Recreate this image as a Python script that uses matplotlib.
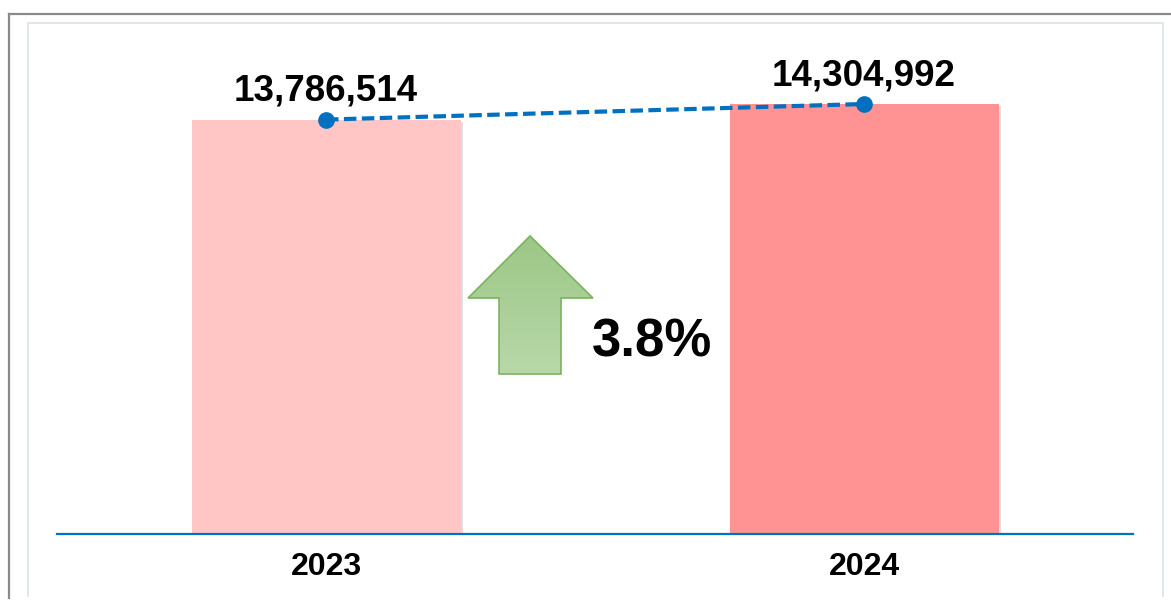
import matplotlib
matplotlib.use("Agg")
import matplotlib.pyplot as plt
from matplotlib.patches import Polygon
from matplotlib.lines import Line2D
import matplotlib.patheffects as pe
import numpy as np

## data
years = ["2023", "2024"]
values = [13786514, 14304992]
change_label = "3.8%"
bar_colors = ["#FFC6C5", "#FF9292"]

plt.rcParams['font.family'] = ['Liberation Sans', 'DejaVu Sans']

W, H = 1171, 603
fig = plt.figure(figsize=(W / 100, H / 100), dpi=100)

## frames (figure pixels)
def fx(px):
    return px / W
def fy(py):
    return 1 - py / H

fig.add_artist(Line2D([fx(9), fx(9)], [fy(14), fy(598)], color="#8a8a8a", lw=1.6))
fig.add_artist(Line2D([fx(9), fx(1171)], [fy(14), fy(14)], color="#8a8a8a", lw=1.6))
fig.add_artist(Line2D([fx(28), fx(28), fx(1163), fx(1163)], [fy(596), fy(23), fy(23), fy(596)],
                      color="#dde4ec", lw=1.3))

ax = fig.add_axes([fx(57), fy(534), fx(1133) - fx(57), fy(23) - fy(534)])
ax.patch.set_alpha(0)

x = np.arange(len(years))
bars = ax.bar(x, values, width=0.5, color=bar_colors, zorder=2)
for b in bars:
    b.set_path_effects([pe.SimplePatchShadow(offset=(1.5, -1.5), shadow_rgbFace="#c8c8c8", alpha=0.6),
                        pe.Normal()])

ax.plot(x, values, color="#0070C0", lw=3, ls=(0, (3, 1.3)), marker="o",
        markersize=11, zorder=4)

for xi, v in zip(x, values):
    ax.annotate(f"{v:,}", (xi, v), xytext=(0, 13.5), textcoords="offset points",
                ha="center", va="baseline", fontsize=26.5, fontweight="bold", color="#000000")

## up arrow with gradient (axes fraction)
arrow_pts = [(0.4396, 0.5832), (0.4981, 0.4618), (0.4684, 0.4618), (0.4684, 0.3131),
             (0.4108, 0.3131), (0.4108, 0.4618), (0.3820, 0.4618)]
arrow = Polygon(arrow_pts, closed=True, transform=ax.transAxes, facecolor="none",
                edgecolor="#7cb35f", lw=1.2, zorder=6)
ax.add_patch(arrow)
grad = np.linspace(0, 1, 100).reshape(-1, 1)
cmap = matplotlib.colors.LinearSegmentedColormap.from_list("g", ["#9cc786", "#b8d8a9"])
im = ax.imshow(grad, cmap=cmap, aspect="auto", extent=[0.3820, 0.4981, 0.3131, 0.5832],
               transform=ax.transAxes, zorder=5, interpolation="bilinear")
im.set_clip_path(arrow)

ax.text(0.4972, 0.3464, change_label, transform=ax.transAxes, ha="left", va="baseline",
        fontsize=38, fontweight="bold", color="#000000")

ax.set_xlim(-0.5, 1.5)
ax.set_ylim(0, 17.0e6)
ax.set_xticks(x)
ax.set_xticklabels(years, fontsize=23, fontweight="bold")
ax.tick_params(axis="x", length=0, pad=13)
ax.set_yticks([])
for s in ["top", "left", "right"]:
    ax.spines[s].set_visible(False)
ax.spines["bottom"].set_color("#0070C0")
ax.spines["bottom"].set_linewidth(1.6)
ax.spines["bottom"].set_zorder(7)

fig.savefig("out.png", dpi=100)
